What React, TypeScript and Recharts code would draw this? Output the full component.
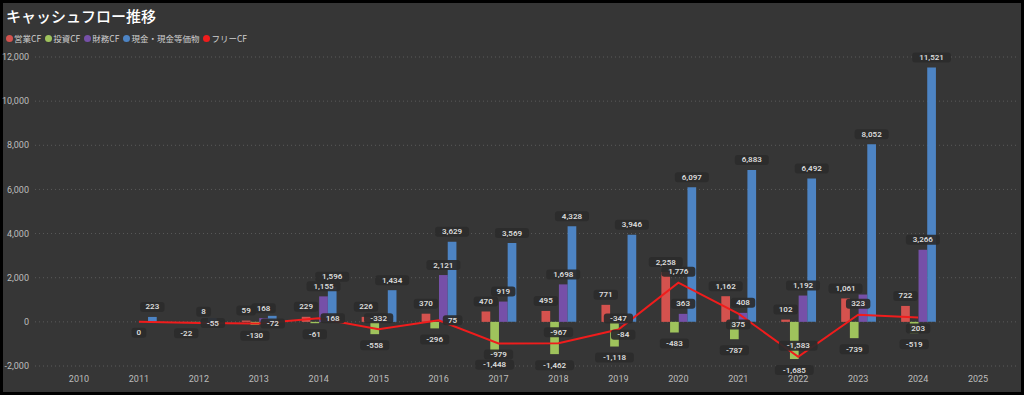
import { ComposedChart, Bar, Line, XAxis, YAxis, CartesianGrid, LabelList } from "recharts";

const years = ["2010", "2011", "2012", "2013", "2014", "2015", "2016", "2017", "2018", "2019", "2020", "2021", "2022", "2023", "2024", "2025"];

const operatingCF = [null, null, -22, 59, 229, 226, 370, 470, 495, 771, 2258, 1162, 102, 1061, 722, null];
const investingCF = [null, null, -33, -130, -61, -558, -296, -1448, -1462, -1118, -483, -787, -1685, -739, -519, null];
const financingCF = [null, null, 8, 168, 1155, 170, 2121, 919, 1698, -84, 363, 408, 1192, 1238, 3266, null];
const cashBalance = [null, 223, 176, 273, 1596, 1434, 3629, 3569, 4328, 3946, 6097, 6883, 6492, 8052, 11521, null];
const freeCF = [null, 0, -55, -72, 168, -332, 75, -979, -967, -347, 1776, 375, -1583, 323, 203, null];

// where the free CF label sits relative to its point
const fcfLabelPos = ["", "below", "right", "right", "right", "above", "right", "below", "above", "above", "above", "below", "above", "above", "below", ""];

const yTicks = [-2000, 0, 2000, 4000, 6000, 8000, 10000, 12000];

// labels the original hides because they collide
const hiddenLabels = ["2012:inv", "2012:cash", "2013:cash", "2015:fin", "2023:fin"];

const SERIES = [
  { key: "op", name: "営業CF", color: "#d4524e" },
  { key: "inv", name: "投資CF", color: "#9fc35c" },
  { key: "fin", name: "財務CF", color: "#7650a8" },
  { key: "cash", name: "現金・現金等価物", color: "#4d84c4" },
];
const LINE = { key: "fcf", name: "フリーCF", color: "#f01c1c" };

const data = years.map((year, i) => {
  const row: Record<string, any> = {
    year,
    op: operatingCF[i],
    inv: investingCF[i],
    fin: financingCF[i],
    cash: cashBalance[i],
    fcf: freeCF[i],
  };
  SERIES.forEach((s) => {
    row[`${s.key}Label`] = hiddenLabels.includes(`${year}:${s.key}`) ? null : row[s.key];
  });
  return row;
});

const fmt = (v: number) => v.toLocaleString("en-US");

function LabelBox({ cx, cy, text }: { cx: number; cy: number; text: string }) {
  const w = text.length * 4.8 + 10;
  return (
    <g>
      <rect x={cx - w / 2} y={cy - 5} width={w} height={10} rx={3} fill="#2b2b2b" fillOpacity={0.92} />
      <text x={cx} y={cy} textAnchor="middle" dominantBaseline="central" fontSize={8} fontWeight={600} fill="#dcdcdc" fontFamily="Roboto, sans-serif">
        {text}
      </text>
    </g>
  );
}

const barLabel = (props: any) => {
  const { x, y, width, height, value } = props;
  if (value === null || value === undefined) return null;
  const top = Math.min(y, y + height);
  const bottom = Math.max(y, y + height);
  const cx = x + width / 2;
  const cy = value >= 0 ? top - 10 : bottom + 11;
  return <LabelBox cx={cx} cy={cy} text={fmt(value)} />;
};

const lineLabel = (props: any) => {
  const { x, y, value, index } = props;
  if (value === null || value === undefined) return null;
  const pos = fcfLabelPos[index];
  let cx = x;
  let cy = y;
  if (pos === "right") cx = x + 14;
  if (pos === "above") cy = y - 11;
  if (pos === "below") cy = y + 11;
  return <LabelBox cx={cx} cy={cy} text={fmt(value)} />;
};

export default function App() {
  return (
    <div style={{ position: "absolute", left: 0, top: 0, width: 1024, height: 395, background: "#000" }}>
      <div style={{ position: "absolute", left: 3, top: 3, width: 1018, height: 389, background: "#363636" }} />
      <div
        style={{
          position: "absolute",
          left: 6,
          top: 5,
          fontSize: 15,
          color: "#fff",
          fontFamily: "'Noto Sans CJK JP', sans-serif",
          fontWeight: 500,
        }}
      >
        キャッシュフロー推移
      </div>
      <div
        style={{
          position: "absolute",
          left: 6,
          top: 32,
          display: "flex",
          gap: 4,
          fontSize: 8.5,
          color: "#cfcfcf",
          fontFamily: "'Noto Sans CJK JP', sans-serif",
        }}
      >
        {[...SERIES, LINE].map((s) => (
          <div key={s.key} style={{ display: "flex", alignItems: "center", gap: 1 }}>
            <span style={{ width: 7, height: 7, borderRadius: "50%", background: s.color, display: "inline-block" }} />
            <span>{s.name}</span>
          </div>
        ))}
      </div>
      <div style={{ position: "absolute", left: 0, top: 0 }}>
        <ComposedChart
          width={1024}
          height={395}
          data={data}
          margin={{ top: 57, right: 7, bottom: 9, left: 0 }}
          barGap={0}
          barSize={8.7}
        >
          <CartesianGrid vertical={false} stroke="#5a5a5a" strokeDasharray="1 3" />
          <XAxis
            dataKey="year"
            axisLine={false}
            tickLine={false}
            tickSize={0}
            tickMargin={10}
            height={20}
            padding={{ left: 14, right: 9 }}
            tick={{ fill: "#bdbdbd", fontSize: 9, fontFamily: "Roboto, sans-serif" }}
            interval={0}
          />
          <YAxis
            domain={[-2000, 12000]}
            ticks={yTicks}
            axisLine={false}
            tickLine={false}
            tickSize={0}
            tickMargin={6}
            width={35}
            tickFormatter={fmt}
            tick={{ fill: "#bdbdbd", fontSize: 9, fontFamily: "Roboto, sans-serif" }}
          />
          {SERIES.map((s) => (
            <Bar key={s.key} dataKey={s.key} name={s.name} fill={s.color} isAnimationActive={false}>
              <LabelList dataKey={`${s.key}Label`} content={barLabel} />
            </Bar>
          ))}
          <Line
            dataKey={LINE.key}
            name={LINE.name}
            stroke={LINE.color}
            strokeWidth={2}
            dot={false}
            activeDot={false}
            isAnimationActive={false}
          >
            <LabelList dataKey={LINE.key} content={lineLabel} />
          </Line>
        </ComposedChart>
      </div>
    </div>
  );
}
